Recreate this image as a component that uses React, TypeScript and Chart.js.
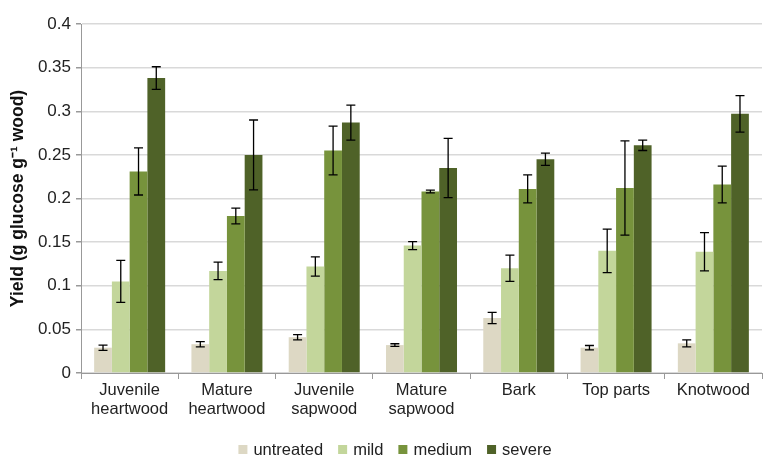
import React, { useEffect, useRef } from "react";
import { Chart, registerables } from "chart.js";

Chart.register(...registerables);

const categories: string[][] = [
  ["Juvenile", "heartwood"],
  ["Mature", "heartwood"],
  ["Juvenile", "sapwood"],
  ["Mature", "sapwood"],
  ["Bark"],
  ["Top parts"],
  ["Knotwood"],
];

const seriesNames = ["untreated", "mild", "medium", "severe"];
const seriesColors = ["#ddd8c4", "#c3d69b", "#77933c", "#4f6228"];

const untreated = [0.029, 0.033, 0.041, 0.032, 0.063, 0.029, 0.034];
const mild = [0.105, 0.117, 0.122, 0.146, 0.12, 0.14, 0.139];
const medium = [0.231, 0.18, 0.255, 0.208, 0.211, 0.212, 0.216];
const severe = [0.338, 0.25, 0.287, 0.235, 0.245, 0.261, 0.297];

const untreatedErr = [0.003, 0.003, 0.003, 0.0015, 0.0065, 0.0025, 0.004];
const mildErr = [0.024, 0.01, 0.011, 0.0045, 0.015, 0.025, 0.022];
const mediumErr = [0.027, 0.009, 0.028, 0.0015, 0.016, 0.054, 0.021];
const severeErr = [0.013, 0.04, 0.02, 0.034, 0.007, 0.006, 0.021];

const yTicks = [0, 0.05, 0.1, 0.15, 0.2, 0.25, 0.3, 0.35, 0.4];

const FONT = "'Liberation Sans', Arial, Helvetica, sans-serif";

const errorBarPlugin = {
  id: "errorBars",
  afterDatasetsDraw(chart: any) {
    const ctx = chart.ctx;
    const yScale = chart.scales.y;
    chart.data.datasets.forEach((ds: any, di: number) => {
      const meta = chart.getDatasetMeta(di);
      if (meta.hidden) return;
      meta.data.forEach((bar: any, i: number) => {
        const v = ds.data[i];
        const e = ds.errors[i];
        const yTop = yScale.getPixelForValue(v + e);
        const yBot = yScale.getPixelForValue(v - e);
        const x = bar.x;
        ctx.save();
        ctx.strokeStyle = "#000";
        ctx.lineWidth = 1.3;
        ctx.beginPath();
        ctx.moveTo(x, yTop);
        ctx.lineTo(x, yBot);
        ctx.moveTo(x - 4.5, yTop);
        ctx.lineTo(x + 4.5, yTop);
        ctx.moveTo(x - 4.5, yBot);
        ctx.lineTo(x + 4.5, yBot);
        ctx.stroke();
        ctx.restore();
      });
    });
  },
};

const bottomLegendPlugin = {
  id: "bottomLegend",
  afterDraw(chart: any) {
    const ctx = chart.ctx;
    const cy = chart.height - 7.5;
    const box = 9;
    ctx.save();
    ctx.font = `16.5px ${FONT}`;
    ctx.textBaseline = "middle";
    ctx.textAlign = "left";
    const items = chart.data.datasets.map((ds: any) => ({
      label: ds.label,
      color: ds.backgroundColor,
      w: ctx.measureText(ds.label).width,
    }));
    const total =
      items.reduce((s: number, it: any) => s + box + 6 + it.w, 0) + 15 * (items.length - 1);
    let x = 395 - total / 2;
    items.forEach((it: any) => {
      ctx.fillStyle = it.color;
      ctx.fillRect(x, cy - box / 2, box, box);
      ctx.fillStyle = "#222";
      ctx.fillText(it.label, x + box + 6, cy + 1);
      x += box + 6 + it.w + 15;
    });
    ctx.restore();
  },
};

export default function App() {
  const ref = useRef<HTMLCanvasElement | null>(null);

  useEffect(() => {
    if (!ref.current) return;
    const values = [untreated, mild, medium, severe];
    const errs = [untreatedErr, mildErr, mediumErr, severeErr];
    const chart = new Chart(ref.current, {
      type: "bar",
      data: {
        labels: categories,
        datasets: seriesNames.map((name, k) => ({
          label: name,
          data: values[k],
          errors: errs[k],
          backgroundColor: seriesColors[k],
          borderWidth: 0,
          barPercentage: 1,
          categoryPercentage: 0.73,
        })) as any,
      },
      options: {
        animation: false,
        responsive: false,
        maintainAspectRatio: false,
        layout: { padding: { left: 8, right: 2, top: 24, bottom: 30 } },
        plugins: {
          tooltip: { enabled: false },
          legend: { display: false },
        },
        scales: {
          x: {
            afterFit: (scale: any) => {
              scale.height = 54;
            },
            grid: {
              offset: true,
              drawOnChartArea: false,
              drawTicks: true,
              tickLength: 6,
              color: "#999",
            },
            border: { color: "#999", width: 1 },
            ticks: {
              color: "#222",
              font: { family: FONT, size: 16.5, lineHeight: 1.15 },
              maxRotation: 0,
              autoSkip: false,
              padding: 2,
            },
          },
          y: {
            min: 0,
            max: 0.4,
            afterBuildTicks: (scale: any) => {
              scale.ticks = yTicks.map((v) => ({ value: v }));
            },
            afterFit: (scale: any) => {
              scale.width = 73;
            },
            grid: {
              color: "#d9d9d9",
              lineWidth: 1.5,
              tickLength: 5,
              tickColor: "#999",
            },
            border: { color: "#999", width: 1 },
            ticks: {
              color: "#222",
              font: { family: FONT, size: 17 },
              padding: 5,
              callback: (v: any) => String(Number(v)),
            },
            title: {
              display: true,
              text: "Yield (g glucose g\u207B\u00B9 wood)",
              color: "#111",
              font: { family: FONT, size: 17.5, weight: "bold" },
              padding: { top: 0, bottom: 0 },
            },
          },
        },
      },
      plugins: [errorBarPlugin, bottomLegendPlugin],
    } as any);
    return () => chart.destroy();
  }, []);

  return (
    <div style={{ position: "absolute", left: 0, top: 0, width: 764, height: 457, background: "#fff" }}>
      <canvas ref={ref} width={764} height={457} style={{ width: 764, height: 457 }} />
    </div>
  );
}
